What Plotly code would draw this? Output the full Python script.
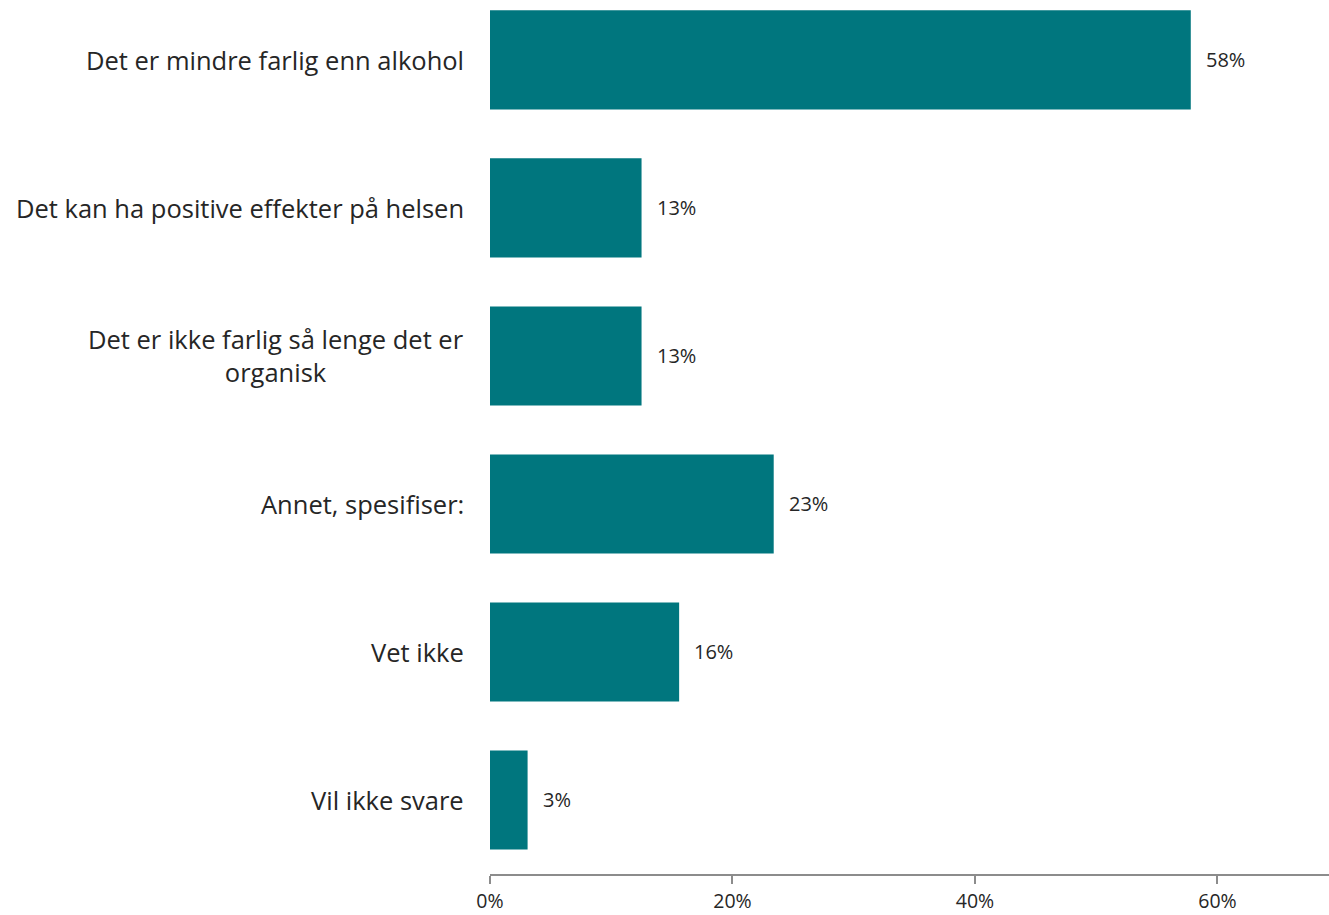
import plotly.graph_objects as go

categories = [
    "Det er mindre farlig enn alkohol",
    "Det kan ha positive effekter på helsen",
    "Det er ikke farlig så lenge det er<br>organisk",
    "Annet, spesifiser:",
    "Vet ikke",
    "Vil ikke svare",
]
values = [57.8, 12.5, 12.5, 23.4, 15.6, 3.1]
value_labels = ["58%", "13%", "13%", "23%", "16%", "3%"]
x_tickvals = [0, 20, 40, 60]
x_ticktext = ["0%", "20%", "40%", "60%"]

positions = list(range(len(categories)))
BAR = "#00767E"
TXT = "#262626"
FONT = "Open Sans"

fig = go.Figure()
fig.add_trace(go.Bar(
    x=values, y=positions, orientation="h",
    marker=dict(color=BAR, line=dict(width=0)),
    width=0.67, hoverinfo="skip",
))

annotations = []
for p, cat in zip(positions, categories):
    annotations.append(dict(
        x=0, xref="paper", y=p, yref="y", text=cat, showarrow=False,
        xanchor="right", yanchor="middle", align="center", xshift=-24,
        font=dict(family=FONT, size=25.5, color=TXT),
    ))
for p, v, lab in zip(positions, values, value_labels):
    annotations.append(dict(
        x=v, xref="x", y=p, yref="y", text=lab, showarrow=False,
        xanchor="left", yanchor="middle", xshift=13,
        font=dict(family=FONT, size=20, color=TXT),
    ))

fig.update_layout(
    width=1329, height=915,
    margin=dict(l=490, r=0, t=0, b=41, pad=0, autoexpand=False),
    plot_bgcolor="white", paper_bgcolor="white",
    showlegend=False,
    annotations=annotations,
    xaxis=dict(
        range=[0, 69.2], tickvals=x_tickvals, ticktext=x_ticktext,
        showgrid=False, zeroline=False, showline=True,
        linecolor="#8C8C8C", linewidth=2,
        ticks="outside", ticklen=8, tickwidth=2, tickcolor="#8C8C8C",
        ticklabelstandoff=1, automargin=False,
        tickfont=dict(family=FONT, size=19.5, color=TXT),
        fixedrange=True,
    ),
    yaxis=dict(
        range=[5.5, -0.405], showticklabels=False, showgrid=False,
        zeroline=False, showline=False, ticks="", fixedrange=True,
        automargin=False,
    ),
)

fig.write_html(
    "out.html",
    config={"displayModeBar": False},
    post_script="document.body.style.margin='0';document.body.style.overflow='hidden';",
)
